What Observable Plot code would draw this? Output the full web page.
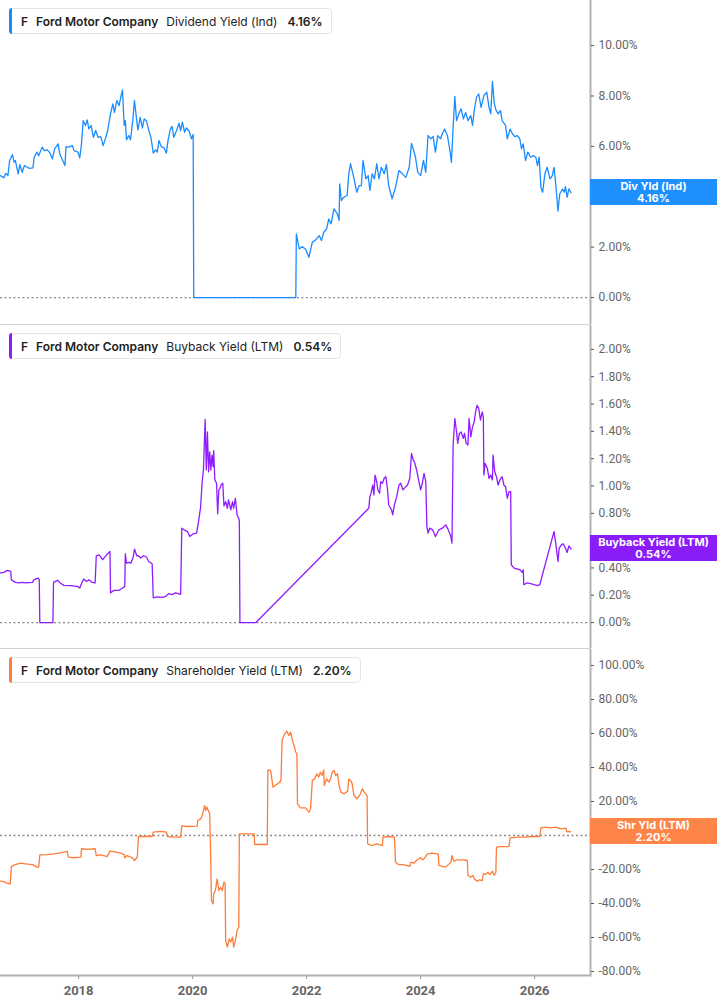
<!DOCTYPE html>
<html><head><meta charset="utf-8">
<script src="https://cdn.jsdelivr.net/npm/d3@7"></script>
<script src="https://cdn.jsdelivr.net/npm/@observablehq/plot@0.6"></script>
<style>
body{margin:0;background:#fff;font-family:Inter,"Noto Sans",sans-serif;}
#root{position:relative;width:717px;height:1005px;overflow:hidden;background:#fff;}
.panel{position:absolute;left:0;}
.legend{position:absolute;left:9px;height:26px;border:1px solid #e4e4e4;border-radius:4px;background:#fff;display:flex;align-items:center;font-size:12px;color:#222;white-space:nowrap;padding:0 8px 0 11px;box-sizing:border-box;}
.legend .bar{position:absolute;left:-1px;top:-1px;bottom:-1px;width:3px;border-radius:4px 0 0 4px;}
.legend span{margin-right:8px;}
.legend span:last-child{margin-right:0;margin-left:2px;}
.legend .b{font-weight:600;}
.badge{position:absolute;left:590px;width:127px;height:26px;color:#fff;font-weight:700;font-size:11px;line-height:12px;text-align:center;display:flex;flex-direction:column;justify-content:center;}
</style></head>
<body><div id="root"></div>
<script>
// ---- data ----
const company = "Ford Motor Company";
const ticker = "F";
const xDomain = [2016.63, 2026.98];
const xTicks = [2018, 2020, 2022, 2024, 2026];
const divTicks = [0, 2, 4, 6, 8, 10];
const buyTicks = [0, 0.2, 0.4, 0.6, 0.8, 1.0, 1.2, 1.4, 1.6, 1.8, 2.0];
const shrTicks = [-80, -60, -40, -20, 0, 20, 40, 60, 80, 100];

// [year, dividend yield %]
const dividendYield = [
[2016.63,4.84],[2016.69,4.75],[2016.72,4.93],[2016.76,4.84],[2016.79,5.44],[2016.84,5.67],[2016.87,5.37],[2016.89,5.44],[2016.94,4.91],[2016.97,5.28],
[2017.01,4.97],[2017.05,5.24],[2017.13,5.13],[2017.20,5.15],[2017.22,5.57],[2017.27,5.77],[2017.30,5.63],[2017.36,5.97],[2017.40,5.83],[2017.45,5.86],
[2017.50,5.73],[2017.54,5.50],[2017.58,5.90],[2017.64,6.10],[2017.67,5.70],[2017.71,5.50],[2017.76,5.24],[2017.78,5.99],[2017.83,5.97],[2017.89,6.03],
[2017.92,5.83],[2017.99,5.77],[2018.02,5.54],[2018.05,6.07],[2018.08,7.02],[2018.12,6.83],[2018.15,7.05],[2018.18,6.69],[2018.22,6.83],[2018.26,6.36],
[2018.30,6.63],[2018.34,6.36],[2018.39,6.39],[2018.43,6.03],[2018.47,6.30],[2018.51,6.63],[2018.56,7.29],[2018.60,7.69],[2018.63,7.35],[2018.67,7.82],
[2018.71,7.62],[2018.74,7.95],[2018.77,8.24],[2018.80,6.83],[2018.82,7.02],[2018.84,6.26],[2018.88,6.43],[2018.91,6.26],[2018.95,7.02],[2018.98,7.82],
[2019.02,7.02],[2019.04,6.65],[2019.08,7.15],[2019.12,6.73],[2019.15,7.09],[2019.19,7.02],[2019.23,6.65],[2019.27,6.34],[2019.31,5.73],[2019.35,5.86],
[2019.38,5.77],[2019.41,6.23],[2019.45,5.99],[2019.50,5.94],[2019.54,5.73],[2019.57,6.26],[2019.61,6.69],[2019.64,6.79],[2019.67,6.36],[2019.72,6.63],
[2019.76,6.92],[2019.79,6.63],[2019.82,6.96],[2019.86,6.56],[2019.89,6.73],[2019.94,6.60],[2019.98,6.30],[2020.01,6.47],[2020.02,0],[2021.81,0],
[2021.82,2.53],[2021.87,1.93],[2021.92,2.02],[2021.98,1.93],[2022.04,1.60],[2022.10,2.19],[2022.16,2.29],[2022.22,2.46],[2022.26,2.26],[2022.30,2.59],
[2022.35,2.72],[2022.39,3.12],[2022.43,2.92],[2022.48,3.52],[2022.54,3.32],[2022.57,3.06],[2022.58,4.51],[2022.61,3.85],[2022.65,3.98],[2022.71,4.05],
[2022.74,4.91],[2022.77,5.31],[2022.82,4.84],[2022.88,4.18],[2022.92,4.44],[2022.96,4.44],[2022.99,5.44],[2023.04,4.71],[2023.08,4.84],[2023.11,4.25],
[2023.15,4.91],[2023.19,4.71],[2023.23,5.31],[2023.27,4.71],[2023.31,5.17],[2023.36,4.91],[2023.40,5.28],[2023.44,4.44],[2023.50,3.92],[2023.56,4.38],
[2023.62,5.04],[2023.68,4.91],[2023.74,4.77],[2023.80,5.17],[2023.84,6.12],[2023.87,5.90],[2023.91,5.57],[2023.95,4.97],[2024.00,4.84],[2024.05,5.44],
[2024.09,4.97],[2024.13,6.43],[2024.18,6.30],[2024.22,6.39],[2024.26,5.77],[2024.30,6.43],[2024.35,6.30],[2024.38,6.50],[2024.42,6.69],[2024.47,6.43],
[2024.51,5.90],[2024.54,5.37],[2024.57,6.76],[2024.60,7.98],[2024.63,7.02],[2024.67,7.29],[2024.71,7.49],[2024.75,7.09],[2024.79,7.35],[2024.83,7.02],
[2024.88,7.22],[2024.91,6.83],[2024.94,7.42],[2024.98,7.95],[2025.02,8.08],[2025.06,7.55],[2025.11,8.02],[2025.16,8.15],[2025.20,7.55],[2025.23,7.29],
[2025.26,8.58],[2025.29,7.75],[2025.32,7.45],[2025.36,7.29],[2025.40,7.42],[2025.43,7.02],[2025.49,6.83],[2025.52,6.30],[2025.57,6.69],[2025.61,6.50],
[2025.65,6.39],[2025.70,6.43],[2025.74,6.30],[2025.77,5.90],[2025.80,6.10],[2025.84,5.44],[2025.88,5.77],[2025.93,5.57],[2025.98,5.63],[2026.02,5.57],
[2026.05,5.24],[2026.08,5.57],[2026.11,4.38],[2026.14,4.18],[2026.18,4.91],[2026.22,5.17],[2026.27,4.71],[2026.31,4.84],[2026.34,5.17],[2026.37,4.51],
[2026.41,3.43],[2026.44,4.11],[2026.49,4.31],[2026.52,4.18],[2026.54,4.40],[2026.57,3.98],[2026.60,4.31],[2026.64,4.16]
];

// [year, buyback yield %]
const buybackYield = [
[2016.63,0.363],[2016.69,0.367],[2016.75,0.382],[2016.81,0.374],[2016.82,0.314],[2016.89,0.294],[2016.95,0.290],[2017.01,0.294],[2017.07,0.290],[2017.19,0.294],
[2017.22,0.314],[2017.29,0.326],[2017.31,0.314],[2017.32,0],[2017.55,0],[2017.56,0.294],[2017.63,0.309],[2017.68,0.290],[2017.74,0.272],[2017.86,0.270],
[2017.98,0.265],[2018.02,0.253],[2018.06,0.294],[2018.09,0.319],[2018.14,0.301],[2018.18,0.314],[2018.24,0.294],[2018.29,0.290],[2018.31,0.489],[2018.36,0.496],
[2018.42,0.460],[2018.47,0.484],[2018.51,0.504],[2018.55,0.520],[2018.56,0.217],[2018.62,0.236],[2018.71,0.236],[2018.77,0.253],[2018.81,0.265],[2018.82,0.504],
[2018.84,0.436],[2018.88,0.440],[2018.92,0.436],[2018.96,0.484],[2018.98,0.538],[2019.02,0.489],[2019.05,0.489],[2019.09,0.472],[2019.14,0.489],[2019.19,0.480],
[2019.23,0.447],[2019.29,0.431],[2019.31,0.180],[2019.38,0.188],[2019.47,0.185],[2019.53,0.192],[2019.58,0.212],[2019.64,0.204],[2019.70,0.217],[2019.79,0.207],
[2019.81,0.691],[2019.85,0.679],[2019.91,0.666],[2019.95,0.630],[2020.01,0.650],[2020.07,0.655],[2020.10,0.728],[2020.14,0.844],[2020.17,1.044],[2020.19,1.117],
[2020.22,1.487],[2020.24,1.117],[2020.26,1.396],[2020.28,1.104],[2020.30,1.250],[2020.32,1.117],[2020.34,1.226],[2020.36,1.141],[2020.37,1.258],[2020.39,1.044],
[2020.42,1.020],[2020.44,0.796],[2020.46,0.971],[2020.48,0.983],[2020.50,1.007],[2020.53,1.020],[2020.55,0.854],[2020.58,0.885],[2020.61,0.837],[2020.63,0.898],
[2020.67,0.825],[2020.70,0.885],[2020.72,0.837],[2020.75,0.910],[2020.78,0.788],[2020.81,0.764],[2020.82,0.739],[2020.83,0],[2021.11,0],
[2023.09,0.837],[2023.11,0.922],[2023.13,0.947],[2023.16,1.007],[2023.18,0.934],[2023.20,1.080],[2023.23,1.031],[2023.25,0.971],[2023.28,0.947],[2023.30,1.031],
[2023.33,1.020],[2023.36,1.056],[2023.39,1.068],[2023.42,0.971],[2023.44,0.861],[2023.49,0.825],[2023.51,0.788],[2023.54,0.861],[2023.58,0.922],[2023.62,1.007],
[2023.65,1.020],[2023.69,0.971],[2023.74,0.995],[2023.77,1.007],[2023.81,1.056],[2023.84,1.238],[2023.87,1.190],[2023.89,1.178],[2023.93,1.117],[2023.97,1.031],
[2024.00,0.971],[2024.03,1.020],[2024.06,1.092],[2024.09,1.031],[2024.11,0.703],[2024.13,0.655],[2024.16,0.691],[2024.21,0.679],[2024.26,0.630],[2024.32,0.679],
[2024.38,0.691],[2024.44,0.715],[2024.48,0.684],[2024.53,0.630],[2024.55,0.582],[2024.57,1.299],[2024.60,1.494],[2024.63,1.396],[2024.65,1.312],[2024.68,1.385],
[2024.71,1.396],[2024.75,1.348],[2024.77,1.385],[2024.80,1.312],[2024.83,1.299],[2024.85,1.494],[2024.88,1.360],[2024.91,1.433],[2024.94,1.469],[2024.96,1.531],
[2024.99,1.591],[2025.02,1.567],[2025.05,1.482],[2025.08,1.542],[2025.10,1.506],[2025.11,1.080],[2025.13,1.166],[2025.17,1.129],[2025.20,1.056],[2025.23,1.080],
[2025.26,1.044],[2025.27,1.226],[2025.30,1.104],[2025.33,1.068],[2025.36,1.007],[2025.39,1.044],[2025.43,1.068],[2025.46,1.007],[2025.49,0.995],[2025.52,0.910],
[2025.55,0.958],[2025.58,0.958],[2025.59,0.423],[2025.64,0.399],[2025.70,0.392],[2025.74,0.387],[2025.78,0.367],[2025.80,0.387],[2025.81,0.277],[2025.87,0.290],
[2025.93,0.285],[2025.99,0.277],[2026.05,0.270],[2026.09,0.277],[2026.34,0.666],[2026.37,0.582],[2026.41,0.447],[2026.43,0.545],[2026.47,0.569],[2026.50,0.577],
[2026.54,0.545],[2026.57,0.513],[2026.60,0.562],[2026.64,0.538]
];

// [year, shareholder yield %]
const shareholderYield = [
[2016.63,-26.9],[2016.69,-27.1],[2016.74,-28.0],[2016.80,-28.4],[2016.82,-18.2],[2016.89,-17.1],[2016.98,-16.3],[2017.07,-16.7],[2017.19,-17.1],[2017.27,-18.6],
[2017.30,-18.6],[2017.32,-11.4],[2017.45,-11.2],[2017.57,-10.8],[2017.68,-10.2],[2017.80,-9.4],[2017.82,-12.7],[2017.92,-13.1],[2018.04,-12.7],[2018.05,-7.8],
[2018.15,-8.2],[2018.29,-7.8],[2018.31,-11.8],[2018.39,-11.4],[2018.50,-12.4],[2018.55,-9.2],[2018.65,-9.8],[2018.74,-10.4],[2018.80,-11.2],[2018.81,-13.1],
[2018.85,-11.8],[2018.94,-13.1],[2018.98,-14.7],[2019.03,-12.7],[2019.05,-0.6],[2019.15,-0.6],[2019.29,-0.6],[2019.31,2.0],[2019.44,2.4],[2019.54,2.0],
[2019.56,-0.6],[2019.68,-1.0],[2019.79,-1.0],[2019.81,5.7],[2019.91,5.3],[2020.08,5.5],[2020.09,8.8],[2020.14,9.8],[2020.17,11.8],[2020.21,17.6],
[2020.23,14.7],[2020.25,16.7],[2020.28,14.3],[2020.30,12.7],[2020.32,-16.7],[2020.33,-38.2],[2020.36,-40.2],[2020.37,-34.3],[2020.40,-32.4],[2020.43,-25.5],
[2020.46,-32.4],[2020.49,-30.4],[2020.52,-32.4],[2020.55,-27.5],[2020.57,-28.4],[2020.58,-61.8],[2020.61,-65.7],[2020.64,-60.8],[2020.67,-62.7],[2020.70,-59.8],
[2020.72,-65.7],[2020.75,-61.8],[2020.78,-55.9],[2020.81,-53.9],[2020.82,1.0],[2021.08,1.0],[2021.09,-5.3],[2021.31,-5.3],[2021.32,38.6],[2021.37,38.2],
[2021.41,28.4],[2021.45,29.4],[2021.53,31.4],[2021.55,32.4],[2021.57,55.9],[2021.60,58.8],[2021.65,61.4],[2021.69,58.8],[2021.72,60.8],[2021.75,55.9],
[2021.78,52.9],[2021.81,49.0],[2021.83,48.0],[2021.84,18.6],[2021.89,16.3],[2021.98,16.3],[2022.04,13.7],[2022.07,15.7],[2022.10,32.4],[2022.14,33.3],
[2022.18,36.3],[2022.21,34.3],[2022.24,37.3],[2022.27,35.3],[2022.30,38.6],[2022.31,29.4],[2022.35,33.3],[2022.39,31.4],[2022.42,33.3],[2022.45,37.3],
[2022.48,38.2],[2022.51,35.3],[2022.54,36.3],[2022.57,29.4],[2022.60,25.5],[2022.66,24.5],[2022.72,26.1],[2022.74,33.3],[2022.77,32.4],[2022.80,30.4],
[2022.83,23.5],[2022.88,21.6],[2022.93,23.5],[2022.98,27.5],[2023.01,25.5],[2023.04,24.5],[2023.06,23.5],[2023.07,-4.9],[2023.14,-5.9],[2023.23,-4.9],
[2023.33,-5.9],[2023.34,-1.0],[2023.45,-0.6],[2023.54,-1.0],[2023.56,-15.7],[2023.61,-17.1],[2023.70,-17.1],[2023.81,-18.2],[2023.83,-15.7],[2023.88,-16.3],
[2023.94,-14.3],[2024.00,-13.1],[2024.04,-14.3],[2024.08,-12.7],[2024.12,-10.8],[2024.20,-10.4],[2024.28,-10.8],[2024.31,-10.8],[2024.32,-17.6],[2024.38,-18.2],
[2024.44,-18.6],[2024.50,-16.7],[2024.53,-15.7],[2024.55,-11.8],[2024.58,-15.1],[2024.64,-14.3],[2024.73,-14.3],[2024.82,-14.7],[2024.83,-23.5],[2024.88,-24.5],
[2024.92,-23.5],[2024.94,-25.5],[2024.99,-26.9],[2025.03,-26.1],[2025.08,-26.5],[2025.10,-22.5],[2025.14,-22.9],[2025.18,-21.6],[2025.22,-22.9],[2025.26,-21.0],
[2025.29,-23.5],[2025.32,-21.6],[2025.33,-6.9],[2025.40,-6.5],[2025.55,-6.5],[2025.57,-1.4],[2025.70,-1.0],[2025.82,-1.0],[2025.96,-0.6],[2026.09,-0.6],
[2026.11,4.5],[2026.20,4.9],[2026.28,4.5],[2026.37,4.9],[2026.46,3.9],[2026.55,4.3],[2026.56,2.35],[2026.63,2.2]
];

const panels = [
  {metric:"Dividend Yield (Ind)", badge:"Div Yld (Ind)", last:"4.16%", value:4.16, data:dividendYield, ticks:divTicks,
   color:"#1a8cff", badgeColor:"#1e90ff", top:0, height:325, yDomain:[-1.07, 11.79], legendTop:8, xAxis:false},
  {metric:"Buyback Yield (LTM)", badge:"Buyback Yield (LTM)", last:"0.54%", value:0.54, data:buybackYield, ticks:buyTicks,
   color:"#8f1cff", badgeColor:"#8a1cf7", top:325, height:324, yDomain:[-0.19, 2.175], legendTop:333, xAxis:false},
  {metric:"Shareholder Yield (LTM)", badge:"Shr Yld (LTM)", last:"2.20%", value:2.20, data:shareholderYield, ticks:shrTicks,
   color:"#ff7d3b", badgeColor:"#ff8447", top:649, height:356, yDomain:[-82.35, 109.4], legendTop:657, xAxis:true}
];

const root = document.getElementById("root");
for (const p of panels) {
  const rows = p.data.map(([t, v]) => ({t, v}));
  const innerH = p.height - 0 - (p.xAxis ? 30 : 1);
  const yScale = d3.scaleLinear().domain(p.yDomain).range([innerH, 0]);
  const badgeY = yScale(p.value);
  // tick labels hidden behind the value badge are not drawn
  const shownTicks = p.ticks.filter(t => Math.abs(yScale(t) - badgeY) > 16);
  const marks = [
    Plot.ruleY([0], {stroke:"#8a8a8a", strokeWidth:1.3, strokeDasharray:"2,2.5"}),
    Plot.line(rows, {x:"t", y:"v", stroke:p.color, strokeWidth:1.3, curve:"linear"}),
    Plot.frame({anchor:"bottom", stroke: p.xAxis ? "#b0b0b0" : "#d0d0d0", strokeWidth: p.xAxis ? 2 : 1}),
    Plot.ruleX([xDomain[1]], {stroke:"#b3b3b3", strokeWidth:2}),
    Plot.axisY(shownTicks, {anchor:"right", label:null, tickSize:3, tickPadding:5, stroke:"#555",
      tickFormat: d => d.toFixed(2) + "%", fill:"#666", fontSize:12})
  ];
  if (p.xAxis) {
    marks.push(Plot.axisX(xTicks, {anchor:"bottom", label:null, tickSize:4, tickPadding:6, stroke:"#999",
      tickFormat: d => String(d), fill:"#666", fontSize:13, fontWeight:"bold"}));
  }
  const chart = Plot.plot({
    width:717, height:p.height,
    marginLeft:0, marginRight:127, marginTop:0, marginBottom: p.xAxis ? 30 : 1,
    x:{domain:xDomain, axis:null, label:null},
    y:{domain:p.yDomain, axis:null, label:null},
    style:{fontFamily:"Roboto, 'Liberation Sans', sans-serif", fontSize:"12px", color:"#555", background:"transparent", overflow:"visible"},
    marks
  });
  chart.classList.add("panel");
  chart.style.top = p.top + "px";
  root.appendChild(chart);

  const lg = document.createElement("div");
  lg.className = "legend";
  lg.style.top = p.legendTop + "px";
  lg.innerHTML = `<div class="bar" style="background:${p.color}"></div><span class="b">${ticker}</span><span class="b">${company}</span><span>${p.metric}</span><span class="b">${p.last}</span>`;
  root.appendChild(lg);

  const yPos = chart.scale("y").apply(p.value);
  const bd = document.createElement("div");
  bd.className = "badge";
  bd.style.background = p.badgeColor;
  bd.style.top = (p.top + yPos - 13) + "px";
  bd.innerHTML = `<div>${p.badge}</div><div>${p.last}</div>`;
  root.appendChild(bd);
}
</script>
</body></html>
